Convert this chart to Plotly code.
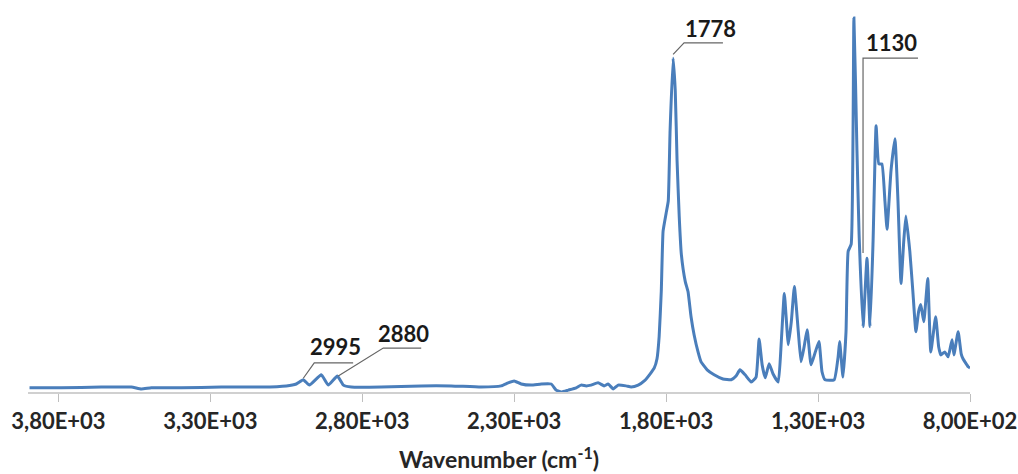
import plotly.graph_objects as go

# Spectrum data (wavenumber in cm-1, absorbance in arbitrary units)
wavenumber = [3895, 3790, 3659, 3560, 3527, 3494, 3395, 3264, 3132, 3050, 3017,
              2994, 2974, 2935, 2912, 2882, 2862, 2836, 2738, 2606, 2507, 2409,
              2343, 2320, 2300, 2277, 2244, 2211, 2178, 2162, 2145, 2122, 2096,
              2080, 2063, 2047, 2024, 2004, 1991, 1974, 1958, 1932, 1915, 1892,
              1872, 1853, 1839, 1830, 1823, 1816, 1810, 1800, 1793, 1787, 1777,
              1770, 1764, 1757, 1750, 1737, 1728, 1718, 1708, 1695, 1685, 1665,
              1642, 1613, 1586, 1570, 1557, 1540, 1520, 1504, 1494, 1484, 1474,
              1461, 1448, 1431, 1421, 1411, 1398, 1388, 1378, 1365, 1356, 1346,
              1336, 1323, 1309, 1297, 1287, 1277, 1247, 1234, 1229, 1218, 1208,
              1201, 1191, 1182, 1172, 1165, 1152, 1139, 1129, 1119, 1109, 1100,
              1090, 1080, 1073, 1060, 1047, 1037, 1027, 1018, 1011, 998, 988,
              978, 969, 962, 952, 939, 929, 913, 903, 896, 883, 872, 859, 853,
              839, 829, 823, 806, 800]
absorbance = [0.011, 0.011, 0.013, 0.013, 0.008, 0.011, 0.011, 0.013, 0.013, 0.016, 0.021,
              0.032, 0.018, 0.045, 0.018, 0.042, 0.018, 0.013, 0.013, 0.016, 0.016, 0.013,
              0.016, 0.024, 0.029, 0.021, 0.018, 0.021, 0.021, 0.005, 0.000, 0.005, 0.011,
              0.018, 0.016, 0.018, 0.024, 0.016, 0.021, 0.008, 0.018, 0.016, 0.013, 0.018,
              0.029, 0.047, 0.063, 0.087, 0.145, 0.263, 0.421, 0.468, 0.500, 0.684, 0.874,
              0.789, 0.605, 0.461, 0.361, 0.289, 0.263, 0.197, 0.150, 0.105, 0.079, 0.058,
              0.045, 0.034, 0.032, 0.042, 0.058, 0.045, 0.026, 0.039, 0.139, 0.071, 0.037,
              0.074, 0.047, 0.026, 0.132, 0.258, 0.124, 0.184, 0.276, 0.158, 0.079, 0.118,
              0.163, 0.071, 0.105, 0.132, 0.053, 0.032, 0.032, 0.092, 0.132, 0.039, 0.158,
              0.368, 0.387, 0.979, 0.632, 0.413, 0.171, 0.350, 0.171, 0.395, 0.697, 0.597,
              0.597, 0.500, 0.426, 0.579, 0.663, 0.500, 0.284, 0.395, 0.461, 0.368, 0.263,
              0.158, 0.211, 0.229, 0.184, 0.297, 0.105, 0.197, 0.118, 0.097, 0.105, 0.092, 0.137, 0.097,
              0.158, 0.100, 0.087, 0.066, 0.063]

# Axis ticks
tick_values = [3800, 3300, 2800, 2300, 1800, 1300, 800]
tick_labels = ["3,80E+03", "3,30E+03", "2,80E+03", "2,30E+03", "1,80E+03", "1,30E+03", "8,00E+02"]

# Peak labels
peak_labels = ["2995", "2880", "1778", "1130"]
peak_wn = [2994, 2879, 1777, 1152]
peak_abs = [0.036, 0.042, 0.884, 0.364]

LINE_COLOR = "#4a7ebb"
LEADER = "#666666"
FONT = "Lato"

fig = go.Figure()
fig.add_trace(go.Scatter(x=wavenumber, y=absorbance, mode="lines",
                         line=dict(color=LINE_COLOR, width=3, shape="spline", smoothing=0.4),
                         showlegend=False, hoverinfo="x+y"))

# Label placement (text position and elbow of the leader line), per label
label_pos = {
    "2995": dict(tx=2889, ty=0.118, ex=2958, ey=0.076, hx=2830),
    "2880": dict(tx=2665, ty=0.152, ex=2731, ey=0.115, hx=2606),
    "1778": dict(tx=1655, ty=0.952, ex=1741, ey=0.914, hx=1613),
    "1130": dict(tx=1057, ty=0.914, ex=1152, ey=0.874, hx=971),
}

for lab, wn, ab in zip(peak_labels, peak_wn, peak_abs):
    p = label_pos[lab]
    fig.add_shape(type="path", xref="x", yref="y",
                  path=f"M {wn},{ab} L {p['ex']},{p['ey']} L {p['hx']},{p['ey']}",
                  line=dict(color=LEADER, width=1.2))
    fig.add_annotation(x=p["tx"], y=p["ty"], xref="x", yref="y", text=lab,
                       showarrow=False,
                       font=dict(family=FONT, size=22, color="#1a1a1a", weight="bold"))

fig.update_layout(
    width=1018, height=474,
    margin=dict(l=28, r=48, t=10, b=82, autoexpand=False),
    paper_bgcolor="white", plot_bgcolor="white",
    xaxis=dict(
        range=[3900, 800], automargin=False,
        tickvals=tick_values, ticktext=tick_labels,
        showgrid=False, zeroline=False,
        showline=True, linecolor="#d0d0d0", linewidth=1.5,
        ticks="outside", ticklen=8, tickcolor="#bfbfbf", tickwidth=1,
        ticklabelstandoff=1, ticklabeloverflow="allow",
        tickfont=dict(family=FONT, size=22, color="#262626", weight="bold"),
        title=dict(text="Wavenumber (cm<sup>-1</sup>)", standoff=19,
                   font=dict(family=FONT, size=23, color="#262626", weight="bold")),
    ),
    yaxis=dict(range=[0, 1.0], visible=False, automargin=False),
)

fig.write_html("out.html", config={"displayModeBar": False},
               post_script="document.body.style.margin='0';document.body.style.overflow='hidden';")
